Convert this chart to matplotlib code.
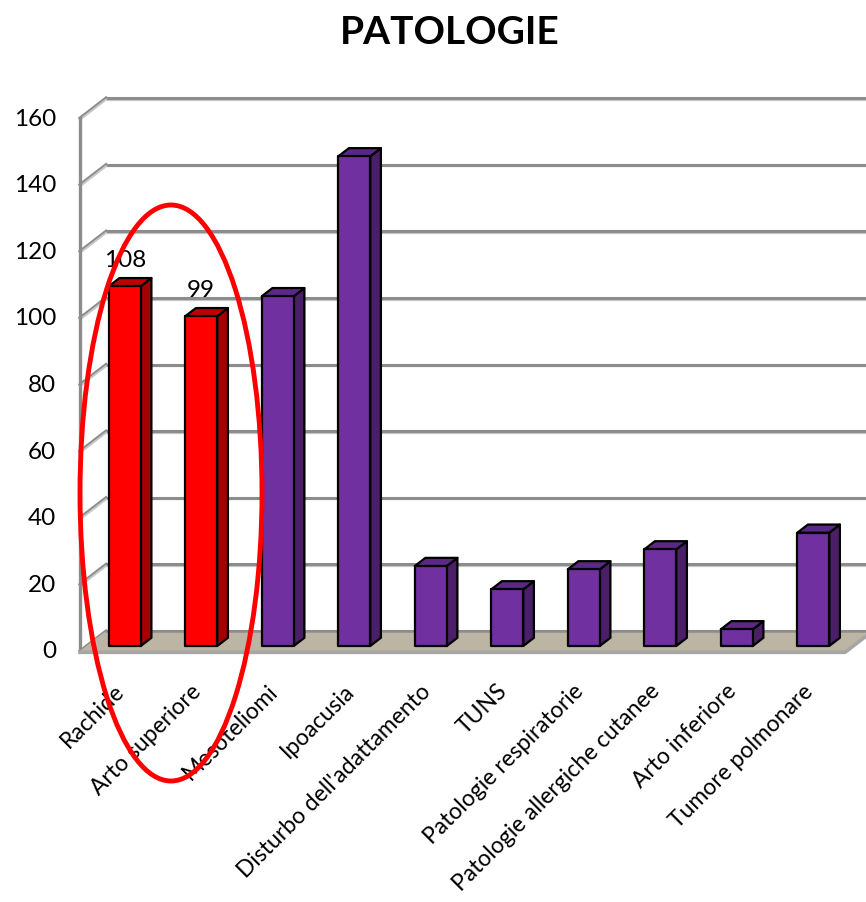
import matplotlib
matplotlib.use("Agg")
import matplotlib.pyplot as plt
from matplotlib.patches import Polygon, Ellipse

plt.rcParams['font.family'] = ['Lato', 'DejaVu Sans']

# ---- data ----
categories = ["Rachide", "Arto superiore", "Mesoteliomi", "Ipoacusia",
              "Disturbo dell'adattamento", "TUNS", "Patologie respiratorie",
              "Patologie allergiche cutanee", "Arto inferiore", "Tumore polmonare"]
values = [108, 99, 105, 147, 24, 17, 23, 29, 5, 34]
highlighted = ["Rachide", "Arto superiore"]
y_ticks = [0, 20, 40, 60, 80, 100, 120, 140, 160]
title = "PATOLOGIE"

# ---- pseudo-3D geometry (data units) ----
W_PX, H_PX = 866, 903
X0_PX, Y0_PX = 80, 652          # front-left corner of the floor
CAT_PX, VAL_PX = 76.5, 3.331    # pixels per category / per value unit
DX = 26 / CAT_PX                # depth shift along x for full depth
DY = 20 / VAL_PX                # depth shift along y for full depth
N = len(categories)
VMAX = y_ticks[-1]

fig = plt.figure(figsize=(W_PX / 100, H_PX / 100), dpi=100)
ax = fig.add_axes([0, 0, 1, 1])
ax.set_xlim(-X0_PX / CAT_PX, (W_PX - X0_PX) / CAT_PX)
ax.set_ylim((Y0_PX - H_PX) / VAL_PX, Y0_PX / VAL_PX)
ax.axis("off")


def proj(x, v, d):
    return (x + d * DX, v + d * DY)


grid_col = "#8C8C8C"
grid_light = "#C8C8C8"
fs = 17.5

# back wall and side wall gridlines
for t in y_ticks:
    x_end = (W_PX - X0_PX) / CAT_PX + 1
    bx, by = proj(0, t, 1)
    ax.plot([bx, x_end], [by - 0.5, by - 0.5], color=grid_light, lw=1.6,
            zorder=1, solid_capstyle="butt")
    ax.plot([bx, x_end], [by, by], color=grid_col, lw=2.2, zorder=1,
            solid_capstyle="butt")
    fx, fy = proj(0, t, 0)
    ax.plot([fx, bx], [fy, by], color=grid_col, lw=2.2, zorder=1)
    ax.plot([fx, bx], [fy - 0.5, by - 0.5], color=grid_light, lw=1.4, zorder=1)
    ax.text(fx - 24 / CAT_PX, fy, str(t), ha="right", va="center",
            fontsize=fs, color="black")

# left front edge
ax.plot([0, 0], [0, VMAX], color=grid_col, lw=2.4, zorder=1)

# floor
floor = Polygon([proj(0, 0, 0), proj(N, 0, 0), proj(N, 0, 1), proj(0, 0, 1)],
                closed=True, facecolor="#BDB5A4", edgecolor="none", zorder=2)
ax.add_patch(floor)
ax.plot([proj(0, 0, 0)[0], proj(N, 0, 0)[0], proj(N, 0, 1)[0]],
        [proj(0, 0, 0)[1] - 0.4, proj(N, 0, 0)[1] - 0.4, proj(N, 0, 1)[1] - 0.4],
        color="#A6A6A6", lw=2.6, zorder=2)
ax.plot([proj(0, 0, 1)[0], proj(N, 0, 1)[0]],
        [proj(0, 0, 1)[1], proj(N, 0, 1)[1]], color=grid_col, lw=1.8, zorder=2)

# bars
bw = 32 / CAT_PX
d0, d1 = 0.25, 0.66
colors = {
    True: ("#FF0000", "#C00000", "#A50000"),
    False: ("#7030A0", "#5B2888", "#4A1F68"),
}
for i, (cat, val) in enumerate(zip(categories, values)):
    front_c, top_c, side_c = colors[cat in highlighted]
    xl = i + 0.5 - bw / 2
    xr = i + 0.5 + bw / 2
    front = [proj(xl, 0, d0), proj(xr, 0, d0), proj(xr, val, d0), proj(xl, val, d0)]
    top = [proj(xl, val, d0), proj(xr, val, d0), proj(xr, val, d1), proj(xl, val, d1)]
    side = [proj(xr, 0, d0), proj(xr, 0, d1), proj(xr, val, d1), proj(xr, val, d0)]
    for pts, fc in ((side, side_c), (top, top_c), (front, front_c)):
        ax.add_patch(Polygon(pts, closed=True, facecolor=fc, edgecolor="black",
                             lw=1.6, joinstyle="round", zorder=3 + i * 0.01))
    if cat in highlighted:
        cx, cy = proj(i + 0.5, val, d0)
        ax.text(cx, cy + 27 / VAL_PX, str(val), ha="center", va="center",
                fontsize=fs, color="black", zorder=5)

# category labels
for i, cat in enumerate(categories):
    ax.text(i + 0.5 + 3 / CAT_PX, -36 / VAL_PX, cat, rotation=45,
            rotation_mode="anchor", ha="right", va="center", fontsize=16.5,
            color="black")

# highlight ring around the first two categories
ring = Ellipse(((171 - X0_PX) / CAT_PX, (Y0_PX - 494) / VAL_PX),
               width=182 / CAT_PX, height=576 / VAL_PX, fill=False,
               edgecolor="#FF0000", lw=3.5, zorder=6)
ax.add_patch(ring)

# title
ax.text((450 - X0_PX) / CAT_PX, (Y0_PX - 32) / VAL_PX, title, ha="center",
        va="center", fontsize=28, fontweight="bold", color="black")

fig.savefig("out.png", dpi=100)
